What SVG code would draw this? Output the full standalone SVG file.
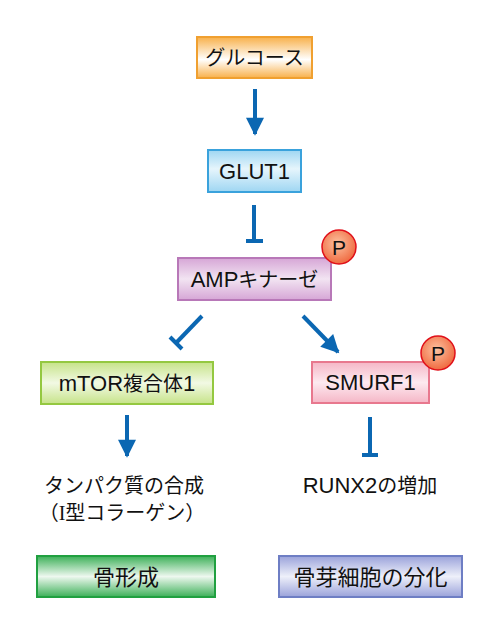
<svg xmlns="http://www.w3.org/2000/svg" width="500" height="636" viewBox="0 0 500 636">
<style>
text{font-family:"Liberation Sans","Noto Sans CJK JP",sans-serif;font-size:20px;fill:#111;text-anchor:middle}
.l{font-size:22px}
.s{font-family:"Liberation Serif",serif}
.box{stroke-width:2}
.ln{stroke:#0B67B2;stroke-width:4;fill:none}
.p{fill:url(#gP);stroke:#E0101A;stroke-width:1.5}
.pt{font-size:21px}
</style>
<defs>
<linearGradient id="gO" x1="0" y1="0" x2="0" y2="1"><stop offset="0" stop-color="#F8B04A"/><stop offset="0.55" stop-color="#FFFFFF"/><stop offset="1" stop-color="#F8B04A"/></linearGradient>
<linearGradient id="gB" x1="0" y1="0" x2="0" y2="1"><stop offset="0" stop-color="#9ED6F2"/><stop offset="0.45" stop-color="#E6F5FC"/><stop offset="1" stop-color="#9ED6F2"/></linearGradient>
<linearGradient id="gV" x1="0" y1="0" x2="0" y2="1"><stop offset="0" stop-color="#D6A6D6"/><stop offset="0.5" stop-color="#F2E4F2"/><stop offset="1" stop-color="#D6A6D6"/></linearGradient>
<linearGradient id="gL" x1="0" y1="0" x2="0" y2="1"><stop offset="0" stop-color="#C6E388"/><stop offset="0.5" stop-color="#F2F9E4"/><stop offset="1" stop-color="#C6E388"/></linearGradient>
<linearGradient id="gK" x1="0" y1="0" x2="0" y2="1"><stop offset="0" stop-color="#F5B6C6"/><stop offset="0.5" stop-color="#FDEAF0"/><stop offset="1" stop-color="#F5B6C6"/></linearGradient>
<linearGradient id="gG" x1="0" y1="0" x2="0" y2="1"><stop offset="0" stop-color="#3CB058"/><stop offset="0.5" stop-color="#EEF8EF"/><stop offset="1" stop-color="#3CB058"/></linearGradient>
<linearGradient id="gU" x1="0" y1="0" x2="0" y2="1"><stop offset="0" stop-color="#9AA2DA"/><stop offset="0.5" stop-color="#EEF0FA"/><stop offset="1" stop-color="#9AA2DA"/></linearGradient>
<radialGradient id="gP" cx="0.45" cy="0.4" r="0.6"><stop offset="0" stop-color="#FCC2A0"/><stop offset="1" stop-color="#F06A40"/></radialGradient>
<marker id="ah" viewBox="0 0 10 10" refX="9" refY="5" markerWidth="5" markerHeight="4.5" markerUnits="strokeWidth" orient="auto"><path d="M0,0 L10,5 L0,10 z" fill="#0B67B2"/></marker>
</defs>

<g id="connectors">
<line class="ln" x1="255" y1="89" x2="255" y2="134" marker-end="url(#ah)"/>
<line class="ln" x1="254" y1="205" x2="254" y2="241"/>
<line class="ln" x1="246" y1="241" x2="263" y2="241"/>
<line class="ln" x1="202" y1="316" x2="176" y2="343"/>
<line class="ln" x1="170" y1="337" x2="182" y2="349"/>
<line class="ln" x1="303" y1="316" x2="338" y2="352" marker-end="url(#ah)"/>
<line class="ln" x1="127" y1="415" x2="127" y2="456" marker-end="url(#ah)"/>
<line class="ln" x1="370" y1="417" x2="370" y2="455"/>
<line class="ln" x1="362" y1="455" x2="378" y2="455"/>
</g>

<g id="glucose"><rect class="box" x="197" y="37" width="115" height="41" fill="url(#gO)" stroke="#F0A030"/><text x="254.5" y="65">グルコース</text></g>
<g id="glut1"><rect class="box" x="208" y="150" width="93" height="42" fill="url(#gB)" stroke="#3AA2DC"/><text class="l" x="254.5" y="179">GLUT1</text></g>
<g id="ampk"><rect class="box" x="178" y="258" width="153" height="42" fill="url(#gV)" stroke="#B878B8"/><text x="254.5" y="287"><tspan class="l">AMP</tspan>キナーゼ</text></g>
<g id="p1"><circle class="p" cx="339" cy="247" r="17"/><text class="pt" x="339" y="254.5">P</text></g>
<g id="mtor"><rect class="box" x="41" y="362" width="172" height="42" fill="url(#gL)" stroke="#94C840"/><text x="127" y="391"><tspan class="l">mTOR</tspan>複合体<tspan class="l">1</tspan></text></g>
<g id="smurf1"><rect class="box" x="312" y="362" width="117" height="41" fill="url(#gK)" stroke="#E8788E"/><text class="l" x="370.5" y="390">SMURF1</text></g>
<g id="p2"><circle class="p" cx="438" cy="353" r="17"/><text class="pt" x="438" y="360.5">P</text></g>
<g id="protein"><text x="124" y="493">タンパク質の合成</text><text x="122" y="520">（<tspan class="s">I</tspan>型コラーゲン）</text></g>
<g id="runx2"><text x="370" y="493"><tspan class="l">RUNX2</tspan>の増加</text></g>
<g id="bone"><rect class="box" x="37" y="556" width="178" height="41" fill="url(#gG)" stroke="#20A040"/><text class="l" x="126" y="585">骨形成</text></g>
<g id="osteoblast"><rect class="box" x="279" y="556" width="183" height="41" fill="url(#gU)" stroke="#6E7EC4"/><text class="l" x="370.5" y="585">骨芽細胞の分化</text></g>
</svg>
